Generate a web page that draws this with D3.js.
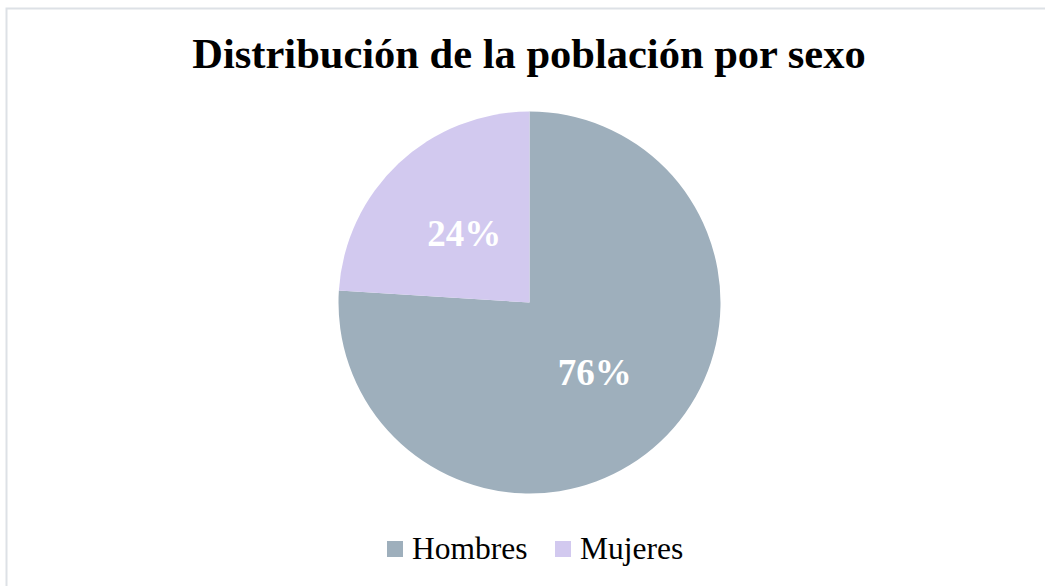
<!DOCTYPE html>
<html>
<head>
<meta charset="utf-8">
<script src="https://cdn.jsdelivr.net/npm/d3@7"></script>
<style>
  html, body { margin: 0; padding: 0; background: #ffffff; }
  svg { display: block; }
</style>
</head>
<body>
<svg id="chart" width="1045" height="586"></svg>
<script>
// Population by sex
const chartTitle = "Distribución de la población por sexo";
const categories = ["Hombres", "Mujeres"];
const values = [76, 24];
const colors = ["#9eafbc", "#d2c9ef"];

const width = 1045, height = 586;
const cx = 529.5, cy = 302.5, radius = 191;
const serif = "'Liberation Serif', 'Times New Roman', Times, serif";

const svg = d3.select("#chart");

// Chart frame
svg.append("rect")
  .attr("x", 6.5).attr("y", 8.5)
  .attr("width", 1045).attr("height", 600)
  .attr("fill", "#ffffff")
  .attr("stroke", "#dde1e6")
  .attr("stroke-width", 2);

// Title
svg.append("text")
  .attr("x", 529).attr("y", 68)
  .attr("text-anchor", "middle")
  .attr("font-family", serif)
  .attr("font-weight", "bold")
  .attr("font-size", 42.5)
  .attr("fill", "#000000")
  .text(chartTitle);

const data = categories.map((c, i) => ({ name: c, value: values[i], color: colors[i] }));

const pie = d3.pie().value(d => d.value).sort(null);
const arc = d3.arc().innerRadius(0).outerRadius(radius);
const labelArc = d3.arc().innerRadius(radius * 0.5).outerRadius(radius * 0.5);

const g = svg.append("g").attr("transform", `translate(${cx},${cy})`);
const arcs = pie(data);

g.selectAll("path.slice")
  .data(arcs)
  .join("path")
  .attr("class", "slice")
  .attr("d", arc)
  .attr("fill", d => d.data.color)
  .attr("stroke", "none");

const total = d3.sum(values);
g.selectAll("text.pct")
  .data(arcs)
  .join("text")
  .attr("class", "pct")
  .attr("transform", d => {
    const [x, y] = labelArc.centroid(d);
    return `translate(${x},${y})`;
  })
  .attr("text-anchor", "middle")
  .attr("dy", "0.36em")
  .attr("font-family", serif)
  .attr("font-weight", "bold")
  .attr("font-size", 37)
  .attr("fill", "#ffffff")
  .text(d => Math.round(d.data.value / total * 100) + "%");

// Legend
const legendX = [387, 555];
const legend = svg.append("g");
data.forEach((d, i) => {
  legend.append("rect")
    .attr("x", legendX[i]).attr("y", 541)
    .attr("width", 16).attr("height", 16)
    .attr("fill", d.color);
  legend.append("text")
    .attr("x", legendX[i] + 25).attr("y", 559)
    .attr("font-family", serif)
    .attr("font-size", 31.5)
    .attr("fill", "#000000")
    .text(d.name);
});
</script>
</body>
</html>
